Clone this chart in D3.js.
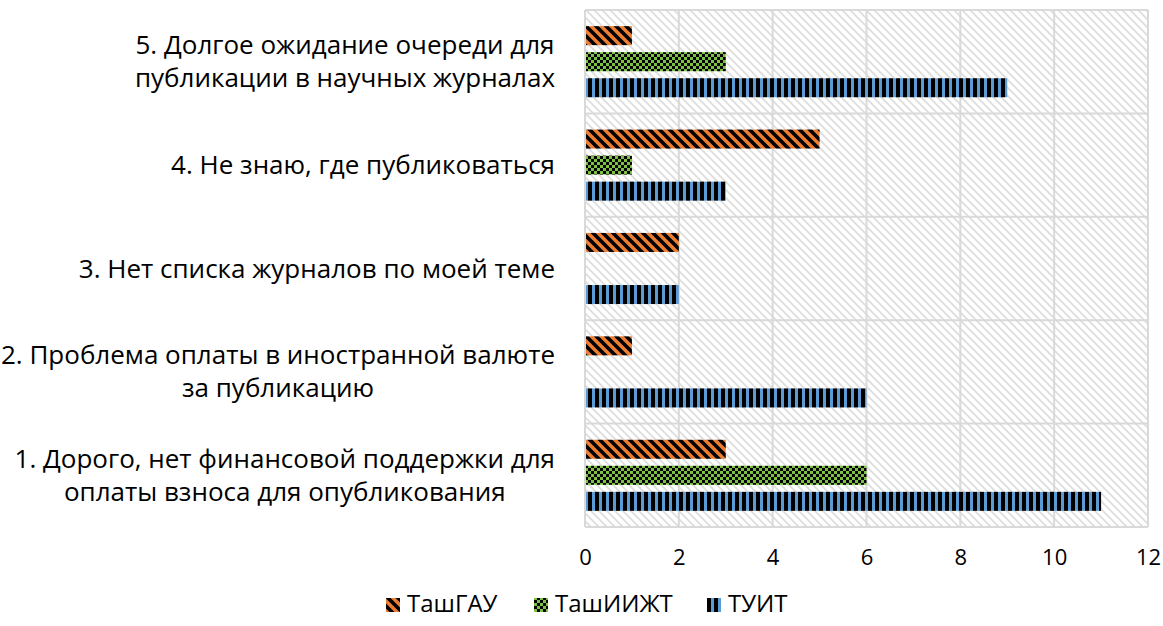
<!DOCTYPE html>
<html><head><meta charset="utf-8">
<script src="https://cdn.jsdelivr.net/npm/d3@7"></script>
<style>body{margin:0;background:#fff;} text{font-family:"Open Sans",sans-serif;fill:#000;}</style>
</head><body><svg id="c" width="1163" height="626"></svg>
<script>
const categories = [
  "1. Дорого, нет финансовой поддержки для|оплаты взноса для опубликования",
  "2. Проблема оплаты в иностранной валюте|за публикацию",
  "3. Нет списка журналов по моей теме",
  "4. Не знаю, где публиковаться",
  "5. Долгое ожидание очереди для|публикации в научных журналах"
];
const seriesNames = ["ТашГАУ", "ТашИИЖТ", "ТУИТ"];
const tashgau = [3, 1, 2, 5, 1];
const tashiizht = [6, 0, 0, 1, 3];
const tuit = [11, 6, 2, 3, 9];
const tickValues = [0, 2, 4, 6, 8, 10, 12];

(function(){
const svg = d3.select("#c");
const defs = svg.append("defs");
const bg = defs.append("pattern").attr("id","bgp").attr("patternUnits","userSpaceOnUse").attr("width",8).attr("height",8);
bg.append("rect").attr("width",8).attr("height",8).attr("fill","#fff");
bg.append("path").attr("d","M-2,-2L10,10M-2,6L2,10M6,-2L10,2").attr("stroke","#dcdcdc").attr("stroke-width",1.6);
const po = defs.append("pattern").attr("id","p0").attr("patternUnits","userSpaceOnUse").attr("width",10).attr("height",10);
po.append("rect").attr("width",10).attr("height",10).attr("fill","#ED7D31");
po.append("path").attr("d","M-3,-3L13,13M-3,7L3,13M7,-3L13,3").attr("stroke","#000").attr("stroke-width",3.6);
const pg = defs.append("pattern").attr("id","p1").attr("patternUnits","userSpaceOnUse").attr("width",6).attr("height",6);
pg.append("rect").attr("width",6).attr("height",6).attr("fill","#7CC242");
pg.append("rect").attr("width",3).attr("height",3).attr("fill","#000");
pg.append("rect").attr("x",3).attr("y",3).attr("width",3).attr("height",3).attr("fill","#000");
const pb = defs.append("pattern").attr("id","p2").attr("patternUnits","userSpaceOnUse").attr("width",7).attr("height",7);
pb.append("rect").attr("width",7).attr("height",7).attr("fill","#5B9BD5");
pb.append("rect").attr("width",4).attr("height",7).attr("fill","#000");

const L = 585, R = 1148, T = 10, B = 527;
const x = d3.scaleLinear().domain([0,12]).range([L,R]);
const y = d3.scaleBand().domain(d3.range(categories.length).reverse()).range([T,B]);
const yi = d3.scaleBand().domain(seriesNames).range([0,y.bandwidth()]).paddingInner(0.27).paddingOuter(0.62);

svg.append("rect").attr("x",L).attr("y",T).attr("width",R-L).attr("height",B-T).attr("fill","url(#bgp)");
const g = svg.append("g");
tickValues.slice(1).forEach(v=>g.append("line").attr("x1",x(v)).attr("x2",x(v)).attr("y1",T).attr("y2",B).attr("stroke","#d9d9d9").attr("stroke-width",2));
d3.range(categories.length).forEach(i=>g.append("line").attr("x1",L).attr("x2",R).attr("y1",y(i)).attr("y2",y(i)).attr("stroke","#d9d9d9").attr("stroke-width",2));
g.append("line").attr("x1",L).attr("x2",R).attr("y1",B).attr("y2",B).attr("stroke","#d9d9d9").attr("stroke-width",2);
g.append("line").attr("x1",L).attr("x2",L).attr("y1",T).attr("y2",B).attr("stroke","#d9d9d9").attr("stroke-width",2);

const data = [tashgau, tashiizht, tuit];
data.forEach((vals,si)=>{
  svg.append("g").selectAll("rect").data(vals).join("rect")
    .attr("x",x(0)+1).attr("y",(d,i)=>y(i)+yi(seriesNames[si]))
    .attr("width",d=>x(d)-x(0)-1).attr("height",yi.bandwidth())
    .attr("fill",`url(#p${si})`).attr("display",d=>d>0?null:"none");
});

const xa = svg.append("g").attr("transform",`translate(0,${B})`)
  .call(d3.axisBottom(x).tickValues(tickValues).tickSize(0).tickPadding(22));
xa.select(".domain").remove();
xa.selectAll("text").attr("font-size",22).style("font-family","'Open Sans',sans-serif").attr("fill","#000");

categories.forEach((c,i)=>{
  const lines = c.split("|");
  const cy = y(i)+y.bandwidth()/2;
  const t = svg.append("text").attr("font-size",26).attr("text-anchor","middle");
  const lh = 33;
  lines.forEach((l,k)=>t.append("tspan").text(l).attr("y",cy+(k-(lines.length-1)/2)*lh+9));
  let w = 0; t.selectAll("tspan").each(function(){w=Math.max(w,this.getComputedTextLength());});
  t.selectAll("tspan").attr("x",555-w/2);
});

const legX = [386, 534, 707];
const leg = svg.append("g");
seriesNames.forEach((n,i)=>{
  leg.append("rect").attr("x",legX[i]).attr("y",598).attr("width",14).attr("height",14).attr("fill",`url(#p${i})`);
  leg.append("text").attr("x",legX[i]+21).attr("y",612).attr("font-size",24).text(n);
});
})();
</script></body></html>
